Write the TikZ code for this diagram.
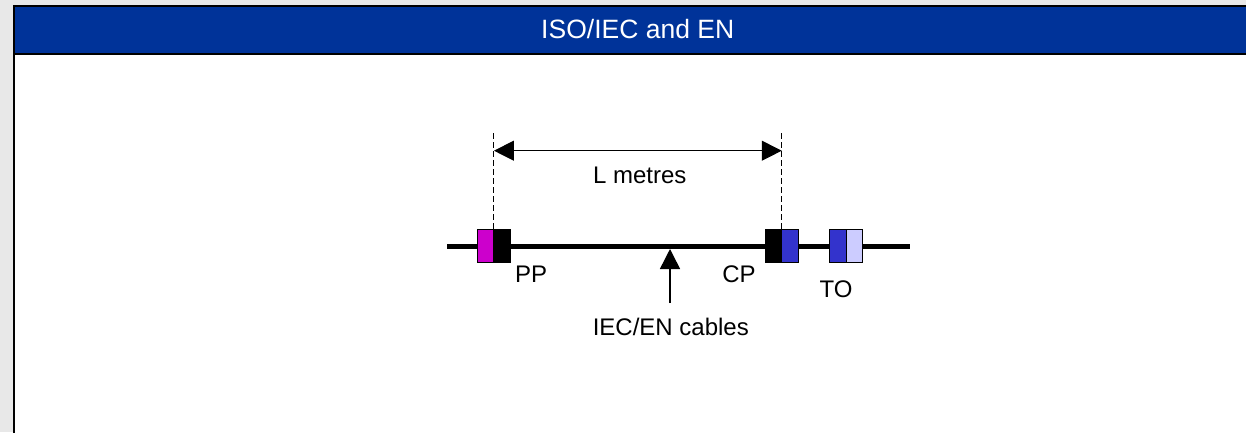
\documentclass[tikz,border=0pt]{standalone}
\usepackage{fontspec}
\setmainfont{Liberation Sans}
\usetikzlibrary{arrows.meta,positioning}
\definecolor{hdrblue}{RGB}{0,51,153}
\definecolor{pagegray}{RGB}{232,232,232}
\definecolor{ppmag}{RGB}{204,0,204}
\definecolor{toblue}{RGB}{51,51,204}
\definecolor{tolight}{RGB}{204,204,255}

\begin{document}
\begin{tikzpicture}[x=1pt,y=-1pt, node distance=0pt,
  every node/.style={font=\fontsize{24}{28}\selectfont},
  conbox/.style={draw,line width=1.2pt,minimum width=16.5pt,minimum height=33pt,inner sep=0pt,outer sep=0pt},
  lbl/.style={anchor=base,inner sep=0pt},
  dimline/.style={dash pattern=on 6pt off 3pt,line width=1pt},
  >={Triangle[length=20pt,width=20pt]}]
\useasboundingbox (0,0) rectangle (1246,432);
\fill[pagegray] (0,0) rectangle (1246,432);
\fill[white] (14,6) rectangle (1262,440);
\fill[hdrblue] (14,6) rectangle (1262,54);
\draw[line width=2pt] (14,440) -- (14,6) -- (1262,6);
\draw[line width=2pt] (14,54) -- (1262,54);
\node[lbl,text=white,font=\fontsize{26.5}{30}\selectfont] (title) at (637.7,38.3) {ISO/IEC and EN};
% cable
\coordinate (cabl) at (447,246.3);
\coordinate (cabr) at (910,246.3);
\draw[line width=5.5pt] (cabl) -- (cabr);
% connectors
\node[conbox,fill=ppmag] (ppa) at (485.7,246.3) {};
\node[conbox,fill=black,right=of ppa] (ppb) {};
\node[conbox,fill=black] (cpa) at (773.5,246.3) {};
\node[conbox,fill=toblue,right=of cpa] (cpb) {};
\node[conbox,fill=toblue] (toa) at (838,246.3) {};
\node[conbox,fill=tolight,right=of toa] (tob) {};
\node[lbl] (pp) at (531,282) {PP};
\node[lbl] (cp) at (739,282) {CP};
\node[lbl] (to) at (836,297) {TO};
% length
\coordinate (ppt) at (ppa.north east |- 0,133);
\coordinate (cpt) at (cpa.north east |- 0,133);
\draw[dimline] (ppt) -- (ppa.north east);
\draw[dimline] (cpt) -- (cpa.north east);
\coordinate (dl) at (ppa.east |- 0,150.7);
\coordinate (dr) at (cpa.east |- 0,150.7);
\draw[<->,line width=1pt] (dl) -- (dr);
\node[lbl] (len) at (639.7,183.3) {L metres};
% cable label
\node[lbl] (iec) at (670.8,335) {IEC/EN cables};
\coordinate (cbot) at (670,303);
\coordinate (ctip) at (670,249);
\draw[->,line width=1.5pt] (cbot) -- (ctip);
\end{tikzpicture}
\end{document}
